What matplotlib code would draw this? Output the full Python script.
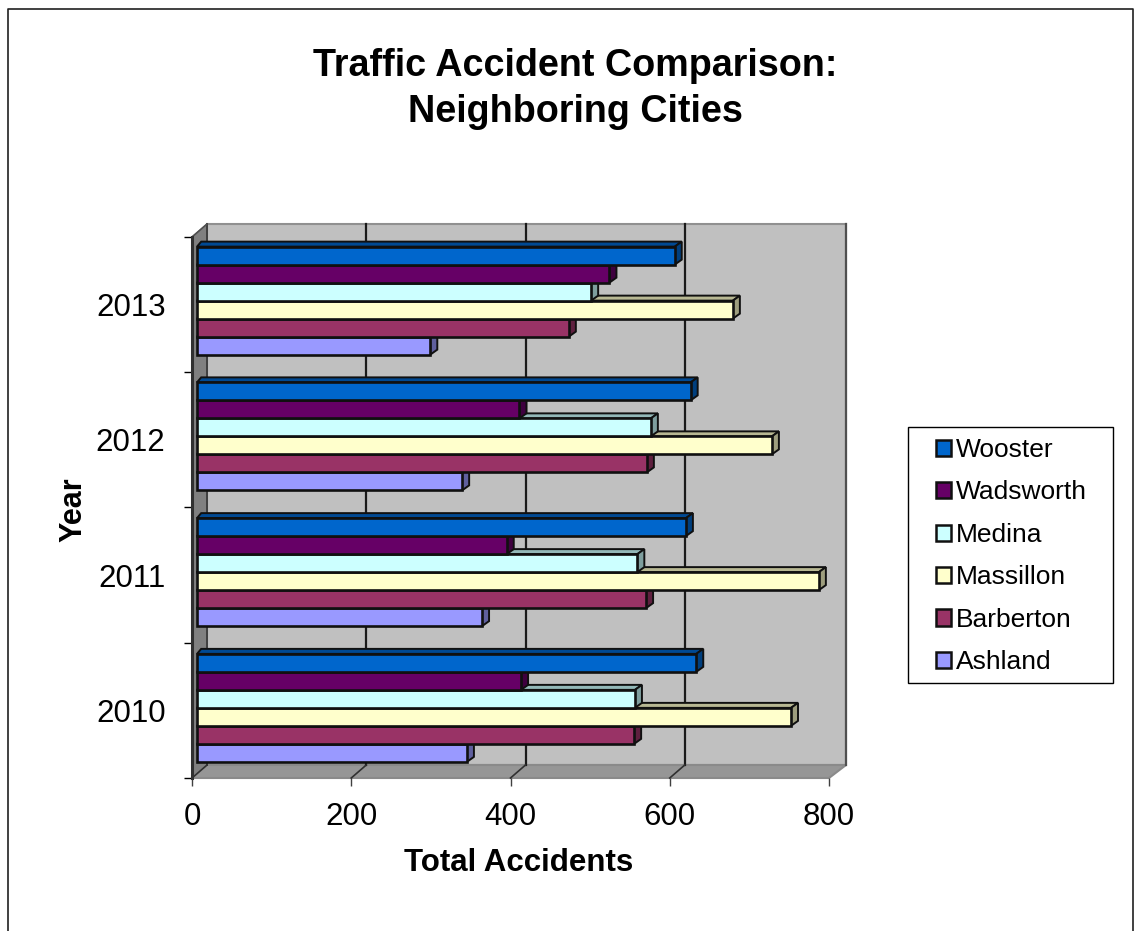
import matplotlib
matplotlib.use("Agg")
import matplotlib.pyplot as plt
from matplotlib.patches import Polygon, Rectangle
from matplotlib.lines import Line2D
import numpy as np

plt.rcParams['font.family'] = ['Liberation Sans', 'DejaVu Sans']

years = ['2010', '2011', '2012', '2013']
# listed bottom to top inside each year, same as the drawing order
cities = ['Ashland', 'Barberton', 'Massillon', 'Medina', 'Wadsworth', 'Wooster']
ashland = [339, 358, 333, 293]
barberton = [549, 564, 565, 467]
massillon = [746, 781, 722, 673]
medina = [550, 553, 570, 495]
wadsworth = [407, 389, 405, 518]
wooster = [627, 614, 620, 600]
series = [ashland, barberton, massillon, medina, wadsworth, wooster]
colors = ['#9999FF', '#993366', '#FFFFCC', '#CCFFFF', '#660066', '#0066CC']
xticks = [0, 200, 400, 600, 800]

W, H = 1134, 931
fig = plt.figure(figsize=(W / 100, H / 100), dpi=100)
# outer frame, no bottom edge in the original
fig.add_artist(Line2D([7.5 / W, 7.5 / W, 1132.5 / W, 1132.5 / W], [0, 1 - 8.5 / H, 1 - 8.5 / H, 0],
                      color='#202020', linewidth=1.2))

# axes box = front edge of the 3d floor/side wall, in pixels
left, right, top, bottom = 192, 829, 237, 778
ax = fig.add_axes([left / W, 1 - bottom / H, (right - left) / W, (bottom - top) / H])
ax.set_xlim(0, 800)
ax.set_ylim(0, 4)
ax.patch.set_visible(False)
for s in ax.spines.values():
    s.set_visible(False)

px_x = 800 / (right - left)  # value per pixel
px_y = 4 / (bottom - top)

# walls
wx, wy = 15 * px_x, 13 * px_y
ax.add_patch(Polygon([(wx, wy), (800 + 2 * px_x + wx, wy), (800 + 2 * px_x + wx, 4 + wy), (wx, 4 + wy)],
                     facecolor='#C0C0C0', edgecolor='#909090', linewidth=1.5, clip_on=False, zorder=1))
ax.add_patch(Polygon([(0, 0), (wx, wy), (wx, 4 + wy), (0, 4)],
                     facecolor='#808080', edgecolor='#808080', linewidth=1, clip_on=False, zorder=1))
ax.add_patch(Polygon([(0, 0), (800, 0), (800 + 2 * px_x + wx, wy), (wx, wy)],
                     facecolor='#969696', edgecolor='#8a8a8a', linewidth=1.5, clip_on=False, zorder=1))
# grid on back wall and floor
for t in xticks[1:-1]:
    ax.plot([t + wx, t + wx], [wy, 4 + wy], color='#1a1a1a', linewidth=1.6, clip_on=False, zorder=2)
    ax.plot([t, t + wx], [0, wy], color='#303030', linewidth=1.2, clip_on=False, zorder=2)
ax.plot([wx, wx], [wy, 4 + wy], color='#404040', linewidth=1.4, clip_on=False, zorder=2)
ax.plot([0, wx], [0, wy], color='#303030', linewidth=1.2, clip_on=False, zorder=2)
ax.plot([0, wx], [4, 4 + wy], color='#505050', linewidth=1.2, clip_on=False, zorder=2)
ax.plot([800 + 2 * px_x + wx] * 2, [wy, 4 + wy], color='#505050', linewidth=1.6, clip_on=False, zorder=2)
ax.plot([0, 0], [0, 4], color='#303030', linewidth=2.2, clip_on=False, zorder=2)

# bars, bottom one of each year first so the upper ones sit on top
bar_x = 5 * px_x
bar_y = 4 * px_y
h = 18 * px_y
dx, dy = 7 * px_x, 5 * px_y
step = 135.75 / 135.25  # groups sit a touch wider than the ticks
z = 3
for i in range(len(years)):
    for j, vals in enumerate(series):
        v = vals[i]
        y0 = 3.5 + (i - 3) * step + bar_y + (j - 3) * h
        rgb = np.array(matplotlib.colors.to_rgb(colors[j]))
        x1 = bar_x + v
        ax.add_patch(Polygon([(bar_x, y0 + h), (bar_x + dx * 0.6, y0 + h + dy), (x1 + dx, y0 + h + dy), (x1, y0 + h)],
                             facecolor=rgb * 0.72, edgecolor='#101010', linewidth=1.4, clip_on=False, zorder=z))
        ax.add_patch(Polygon([(x1, y0), (x1 + dx, y0 + dy), (x1 + dx, y0 + h + dy), (x1, y0 + h)],
                             facecolor=rgb * 0.62, edgecolor='#101010', linewidth=1.4, clip_on=False, zorder=z))
        ax.barh(y0 + h / 2, v, height=h, left=bar_x, color=colors[j], edgecolor='#101010', linewidth=1.9,
                clip_on=False, zorder=z)
        z += 1

# ticks
ax.set_xticks(xticks)
ax.set_xticklabels(xticks, fontsize=22.5)
ax.tick_params(axis='x', length=6, width=1, color='#404040', pad=11.5)
ax.set_yticks(range(5))
ax.set_yticklabels([])
ax.tick_params(axis='y', length=5.5, width=1, color='black')
ax.set_yticks(np.arange(4) + 0.5, minor=True)
ax.set_yticklabels(years, minor=True, fontsize=22.5)
ax.tick_params(axis='y', which='minor', length=0, pad=19)

ax.set_xlabel('Total Accidents', fontsize=22.5, fontweight='bold')
ax.xaxis.set_label_coords((519 - left) / (right - left), -(863 - bottom) / (bottom - top), transform=ax.transAxes)
ax.xaxis.label.set_verticalalignment('center')
ax.set_ylabel('Year', fontsize=22, fontweight='bold')
ax.yaxis.set_label_coords(-(192 - 73) / (right - left), (bottom - 510) / (bottom - top), transform=ax.transAxes)
ax.yaxis.label.set_verticalalignment('center')

fig.text(575 / W, 1 - 66.5 / H, 'Traffic Accident Comparison:', fontsize=27.2, fontweight='bold', ha='center', va='center')
fig.text(575 / W, 1 - 111.5 / H, 'Neighboring Cities', fontsize=27.2, fontweight='bold', ha='center', va='center')

# legend, box drawn apart because its padding differs in x and y
fig.add_artist(Rectangle((908 / W, 1 - 682.5 / H), 205 / W, 255.5 / H, transform=fig.transFigure,
                         facecolor='white', edgecolor='black', linewidth=1))
handles = [Rectangle((0, 0), 1, 1, facecolor=c, edgecolor='#101010', linewidth=1.8) for c in colors][::-1]
leg = fig.legend(handles, cities[::-1], loc='upper left',
                 bbox_to_anchor=(936 / W, 1 - 438 / H), bbox_transform=fig.transFigure,
                 borderaxespad=0, fontsize=19, frameon=False,
                 handlelength=0.57, handleheight=0.57, handletextpad=0.19, labelspacing=0.7,
                 borderpad=0)

plt.savefig('out.png', dpi=100)
